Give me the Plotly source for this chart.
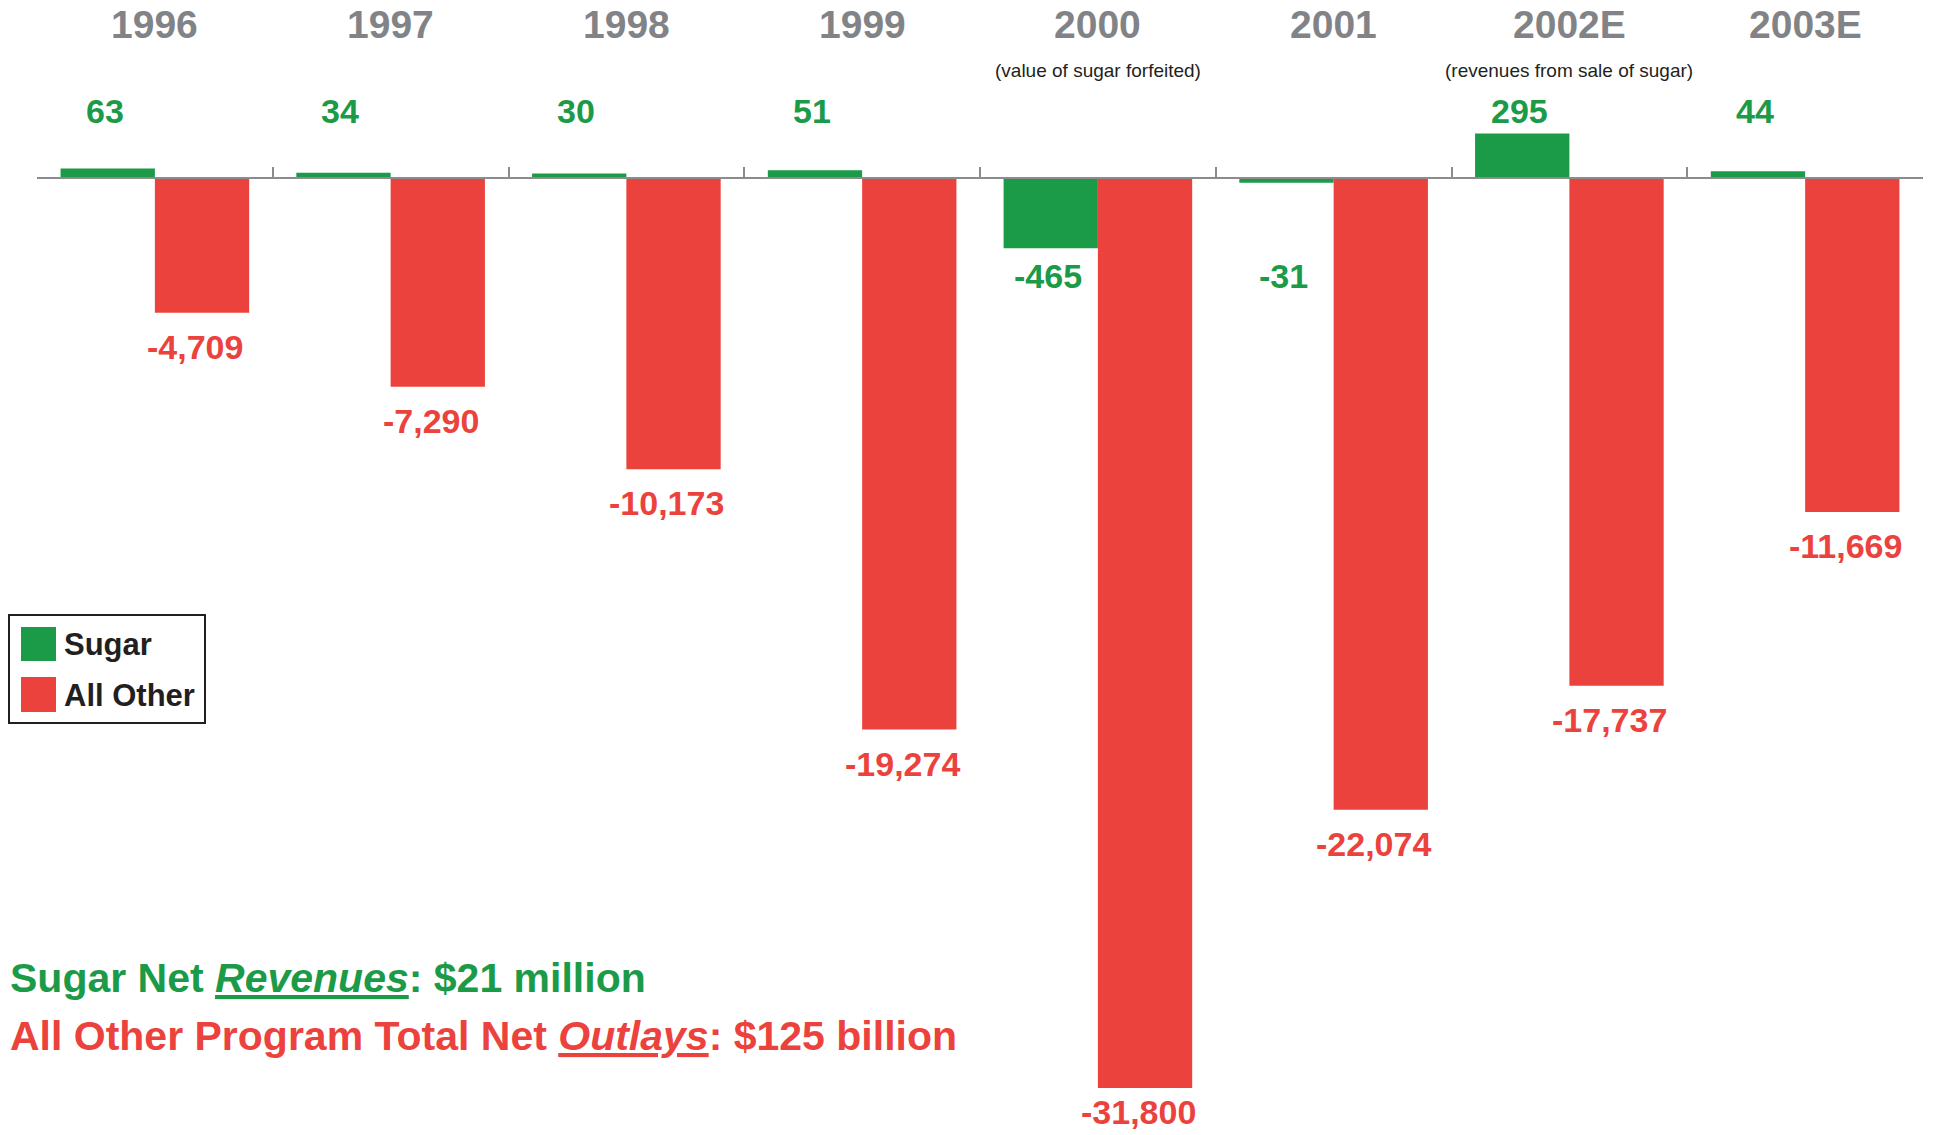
import plotly.graph_objects as go

# ---------------- data ----------------
years = ["1996", "1997", "1998", "1999", "2000", "2001", "2002E", "2003E"]
sugar = [63, 34, 30, 51, -465, -31, 295, 44]
all_other = [-4709, -7290, -10173, -19274, -31800, -22074, -17737, -11669]
sugar_labels = ["63", "34", "30", "51", "-465", "-31", "295", "44"]
other_labels = ["-4,709", "-7,290", "-10,173", "-19,274", "-31,800", "-22,074", "-17,737", "-11,669"]
notes = {"2000": "(value of sugar forfeited)", "2002E": "(revenues from sale of sugar)"}
summary_sugar = "Sugar Net <span style='text-decoration:underline'><i>Revenues</i></span>: $21 million"
summary_other = "All Other Program Total Net <span style='text-decoration:underline'><i>Outlays</i></span>: $125 billion"

# ---------------- style ----------------
GREEN = "#1b9a48"
RED = "#ec423d"
GRAY = "#828387"
DARK = "#231f20"
AXIS = "#8c8c8f"
FONT = "Liberation Sans, Arial, Helvetica, sans-serif"

W, H = 1934, 1135
ML, MR, MT, MB = 37, 11, 0, 0
PW, PH = W - ML - MR, H - MT - MB
ZERO_PX = 178            # pixel row of the zero line
K_OTHER = 0.02862        # px per unit, all-other axis
K_SUGAR = 0.1512         # px per unit, sugar axis
LABEL_GAP = 34           # px between bar end and label centre
LABEL_HALF = 23          # half height of a label box

y_range = [-(PH - ZERO_PX) / K_OTHER, ZERO_PX / K_OTHER]
y2_range = [-(PH - ZERO_PX) / K_SUGAR, ZERO_PX / K_SUGAR]
zero_pos = (PH - ZERO_PX) / PH


def px_x(px):
    return (px - ML) / PW


def px_y(py):
    return 1 - (py - MT) / PH


fig = go.Figure()
fig.add_trace(go.Bar(x=years, y=sugar, name="Sugar", marker_color=GREEN,
                     width=0.4, offset=-0.4, yaxis="y2", marker_line_width=0))
fig.add_trace(go.Bar(x=years, y=all_other, name="All Other", marker_color=RED,
                     width=0.4, offset=0.0, yaxis="y", marker_line_width=0))

ann = []
for i, yr in enumerate(years):
    # year headings
    ann.append(dict(x=i, y=px_y(25), xref="x", yref="paper", text=yr, showarrow=False,
                    font=dict(family=FONT, size=39, color=GRAY, weight=700),
                    xanchor="center", yanchor="middle"))
    # sugar value labels
    row = 111 if sugar[i] >= 0 else 276
    ann.append(dict(x=i - 0.2, y=px_y(row), xref="x", yref="paper", text=sugar_labels[i],
                    showarrow=False, font=dict(family=FONT, size=34, color=GREEN, weight=700),
                    xanchor="center", yanchor="middle", xshift=-3))
    # all-other value labels (kept inside the page)
    bar_end_px = ZERO_PX - all_other[i] * K_OTHER
    gap = min(LABEL_GAP, H - LABEL_HALF - bar_end_px)
    ann.append(dict(x=i + 0.2, y=all_other[i], xref="x", yref="y", text=other_labels[i],
                    showarrow=False, font=dict(family=FONT, size=34, color=RED, weight=700),
                    xanchor="center", yanchor="middle", yshift=-gap, xshift=-7))
    if yr in notes:
        ann.append(dict(x=i, y=px_y(70), xref="x", yref="paper", text=notes[yr], showarrow=False,
                        font=dict(family=FONT, size=19, color=DARK),
                        xanchor="center", yanchor="middle"))

# legend (drawn manually)
shapes = [
    dict(type="rect", xref="paper", yref="paper", x0=px_x(9), x1=px_x(205), y0=px_y(723), y1=px_y(615),
         line=dict(color=DARK, width=2), fillcolor="white"),
    dict(type="rect", xref="paper", yref="paper", x0=px_x(21), x1=px_x(56), y0=px_y(661), y1=px_y(627),
         line=dict(width=0), fillcolor=GREEN),
    dict(type="rect", xref="paper", yref="paper", x0=px_x(21), x1=px_x(56), y0=px_y(712), y1=px_y(677),
         line=dict(width=0), fillcolor=RED),
]
ann.append(dict(x=px_x(62), y=px_y(644), xref="paper", yref="paper", text="Sugar", showarrow=False,
                font=dict(family=FONT, size=31, color=DARK, weight=700), xanchor="left", yanchor="middle"))
ann.append(dict(x=px_x(62), y=px_y(695), xref="paper", yref="paper", text="All Other", showarrow=False,
                font=dict(family=FONT, size=31, color=DARK, weight=700), xanchor="left", yanchor="middle"))

# summary lines
ann.append(dict(x=px_x(8), y=px_y(978), xref="paper", yref="paper", text=summary_sugar, showarrow=False,
                font=dict(family=FONT, size=41, color=GREEN, weight=700), xanchor="left", yanchor="middle"))
ann.append(dict(x=px_x(8), y=px_y(1036), xref="paper", yref="paper", text=summary_other, showarrow=False,
                font=dict(family=FONT, size=41, color=RED, weight=700), xanchor="left", yanchor="middle"))

fig.update_layout(
    width=W, height=H,
    margin=dict(l=ML, r=MR, t=MT, b=MB, pad=0),
    paper_bgcolor="white", plot_bgcolor="white",
    showlegend=False,
    barmode="overlay",
    xaxis=dict(type="category", anchor="free", position=zero_pos, showline=True, linecolor=AXIS,
               linewidth=2, ticks="inside", ticklen=10, tickwidth=2, tickcolor=AXIS,
               tickson="boundaries", showticklabels=False, showgrid=False, zeroline=False,
               range=[-0.5, len(years) - 0.5]),
    yaxis=dict(range=y_range, visible=False, showgrid=False, zeroline=False),
    yaxis2=dict(range=y2_range, overlaying="y", visible=False, showgrid=False, zeroline=False),
    annotations=ann,
    shapes=shapes,
)

fig.write_html("out.html", config={"displayModeBar": False},
               post_script="document.body.style.margin='0';document.body.style.overflow='hidden';")
